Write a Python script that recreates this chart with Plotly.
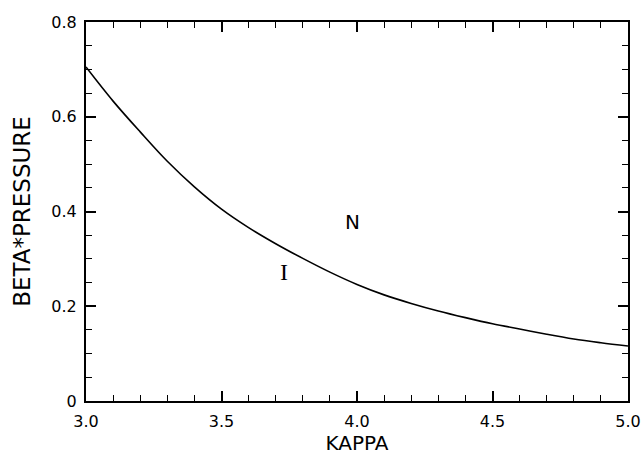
import plotly.graph_objects as go

kappa = [3.0, 3.1, 3.2, 3.3, 3.4, 3.5, 3.6, 3.7, 3.8, 3.9, 4.0,
         4.1, 4.2, 4.3, 4.4, 4.5, 4.6, 4.7, 4.8, 4.9, 5.0]
beta_pressure = [0.705, 0.633, 0.568, 0.506, 0.452, 0.405, 0.366, 0.332, 0.301, 0.272, 0.246,
                 0.224, 0.206, 0.190, 0.176, 0.163, 0.152, 0.141, 0.131, 0.123, 0.116]

region_labels = ["N", "I"]
region_x = [3.985, 3.73]
region_y = [0.378, 0.272]

font_family = "DejaVu Sans, Arial, sans-serif"

fig = go.Figure()
fig.add_trace(go.Scatter(x=kappa, y=beta_pressure, mode="lines",
                         line=dict(color="black", width=1.6, shape="spline"),
                         showlegend=False, hoverinfo="skip"))

fig.add_annotation(x=region_x[0], y=region_y[0], text=region_labels[0], showarrow=False,
                   font=dict(family=font_family, size=20, color="black"))
fig.add_annotation(x=region_x[1], y=region_y[1], text=region_labels[1], showarrow=False,
                   font=dict(family="Liberation Serif, Times New Roman, serif", size=24, color="black"))

fig.update_layout(
    xaxis=dict(range=[3.0, 5.0], tick0=3.0, dtick=0.5, tickformat=".1f",
               ticks="inside", ticklen=10, tickwidth=2, tickcolor="#000000", mirror="ticks",
               minor=dict(dtick=0.1, ticks="inside", ticklen=6, tickcolor="#000000", tickwidth=1),
               showline=True, linecolor="black", linewidth=2, showgrid=False, zeroline=False,
               automargin=False, ticklabelstandoff=5,
               tickfont=dict(family=font_family, size=16, color="black"),
               title=dict(text="KAPPA", font=dict(family=font_family, size=20, color="black"), standoff=6)),
    yaxis=dict(range=[0, 0.8], tick0=0, dtick=0.2,
               ticks="inside", ticklen=10, tickwidth=2, tickcolor="#000000", mirror="ticks",
               minor=dict(dtick=0.05, ticks="inside", ticklen=6, tickcolor="#000000", tickwidth=1),
               showline=True, linecolor="black", linewidth=2, showgrid=False, zeroline=False,
               automargin=False, ticklabelstandoff=4,
               tickfont=dict(family=font_family, size=16, color="black"),
               title=dict(text="BETA*PRESSURE", font=dict(family=font_family, size=23, color="black"), standoff=14)),
)

fig.update_layout(width=643, height=456, margin=dict(l=86, r=15, t=22, b=55),
                  plot_bgcolor="white", paper_bgcolor="white")

fig.write_html("out.html", config={"displayModeBar": False},
               post_script="document.body.style.margin='0px';")
